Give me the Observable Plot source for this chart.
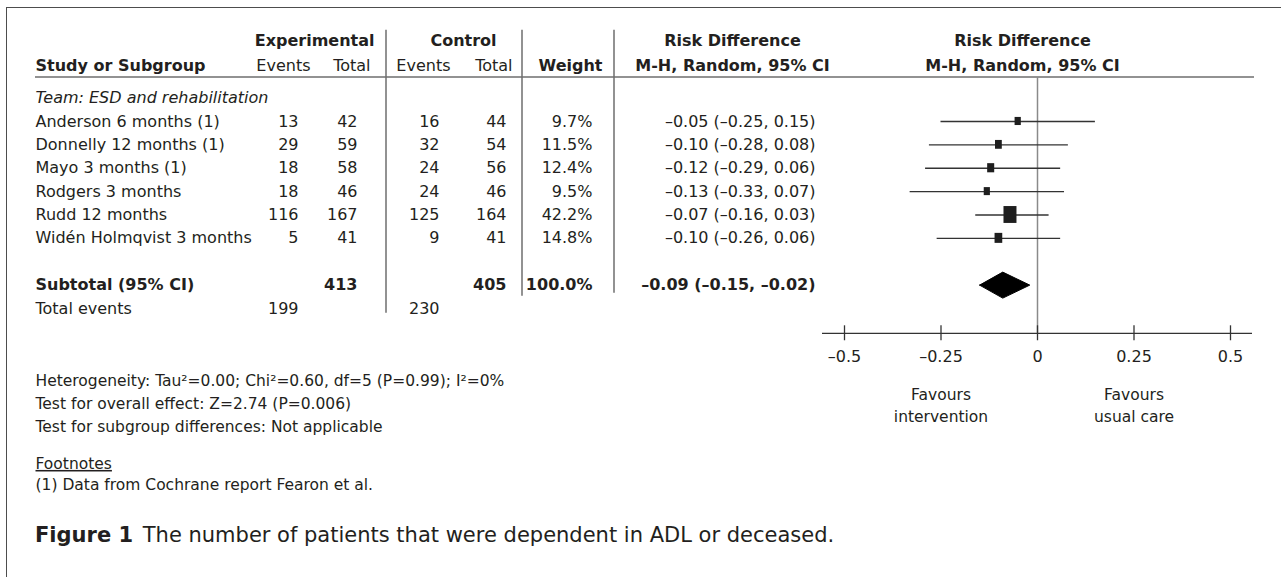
<!DOCTYPE html>
<html>
<head>
<meta charset="utf-8">
<script src="https://cdn.jsdelivr.net/npm/d3@7"></script>
<script src="https://cdn.jsdelivr.net/npm/@observablehq/plot@0.6"></script>
<style>
  html, body { margin: 0; padding: 0; background: #fff; }
  body { font-family: "DejaVu Sans", sans-serif; color: #231f20; width: 1281px; height: 577px; overflow: hidden; position: relative; }
  #chart { position: absolute; left: 0; top: 0; }
  #frame { position: absolute; left: 6px; top: 7px; width: 1280px; height: 575px; border-left: 1.5px solid #4d4d4d; border-top: 1.5px solid #4d4d4d; z-index: 2; pointer-events: none; }
  #caption { position: absolute; left: 35px; top: 521px; font-size: 21px; line-height: 29px; white-space: nowrap; color: #231f20; }
  #caption b { font-weight: 700; margin-right: 3px; }
</style>
</head>
<body>
<div id="chart"></div>
<div id="frame"></div>
<div id="caption"><b>Figure 1</b> The number of patients that were dependent in ADL or deceased.</div>
<script>
// ---------------- data ----------------
const subgroupLabel = "Team: ESD and rehabilitation";
const studies = ["Anderson 6 months (1)", "Donnelly 12 months (1)", "Mayo 3 months (1)", "Rodgers 3 months", "Rudd 12 months", "Widén Holmqvist 3 months"];
const expEvents = [13, 29, 18, 18, 116, 5];
const expTotal = [42, 59, 58, 46, 167, 41];
const ctrlEvents = [16, 32, 24, 24, 125, 9];
const ctrlTotal = [44, 54, 56, 46, 164, 41];
const weights = [9.7, 11.5, 12.4, 9.5, 42.2, 14.8];
const riskDiff = [-0.05, -0.10, -0.12, -0.13, -0.07, -0.10];
const ciLow = [-0.25, -0.28, -0.29, -0.33, -0.16, -0.26];
const ciHigh = [0.15, 0.08, 0.06, 0.07, 0.03, 0.06];
const subtotalLabel = "Subtotal (95% CI)";
const subtotalExpTotal = 413;
const subtotalCtrlTotal = 405;
const subtotalWeight = 100.0;
const subtotalRD = [-0.09, -0.15, -0.02]; // estimate, low, high
const totalEventsLabel = "Total events";
const totalExpEvents = 199;
const totalCtrlEvents = 230;
const xTicks = [-0.5, -0.25, 0, 0.25, 0.5];
const favourLabels = [{x: -0.25, text: "Favours\nintervention"}, {x: 0.25, text: "Favours\nusual care"}];
const footLines = [
  "Heterogeneity: Tau²=0.00; Chi²=0.60, df=5 (P=0.99); I²=0%",
  "Test for overall effect: Z=2.74 (P=0.006)",
  "Test for subgroup differences: Not applicable"
];
const footnoteHead = "Footnotes";
const footnote1 = "(1) Data from Cochrane report Fearon et al.";

// ---------------- layout ----------------
const INK = "#231f20";
const FONT = "'DejaVu Sans', sans-serif";
const W = 1281, H = 505;
const xDomain = [-0.557, 0.557], xRange = [822, 1252];
const yDomain = [0, 9], yRange = [97.6, 308];
const pxPerUnit = (xRange[1] - xRange[0]) / (xDomain[1] - xDomain[0]);
const pxPerRow = (yRange[1] - yRange[0]) / (yDomain[1] - yDomain[0]);
const L = {header1: -2.45, header2: -1.36, headerRule: -0.88, sepTop: -2.9,
  axis: 10.06, tickLabel: 11.05, favours: 13.09,
  foot: [12.1, 13.08, 14.06], footHead: 15.65, foot1: 16.55};
const COL = {study: 35, expEvents: 298, expTotal: 357, ctrlEvents: 439, ctrlTotal: 506, weight: 592, rdText: 815};
const HDR = {experimental: 374, expEvents: 310, expTotal: 370, control: 463, ctrlEvents: 450, ctrlTotal: 512, weight: 602, rd: 732, forest: 1022};
const SEP = [{x: 386, bottom: 9.2}, {x: 522, bottom: 8.48}, {x: 614, bottom: 8.35}];
const RULE = {x1: 35, x2: 1254};
const FS = 16, FS_FOOT = 15.5;

const fmtRD = v => (v < 0 ? "–" : "") + Math.abs(v).toFixed(2);
const fmtTick = v => (v < 0 ? "–" : "") + Math.abs(v);

const studyRows = studies.map((s, i) => ({
  row: i + 1, study: s, ee: expEvents[i], et: expTotal[i], ce: ctrlEvents[i], ct: ctrlTotal[i],
  w: weights[i], rd: riskDiff[i], lo: ciLow[i], hi: ciHigh[i]
}));
const subRow = 8, totRow = 9;
const [sEst, sLo, sHi] = subtotalRD;
const diamondHalf = 13 / pxPerRow;
const diamond = [
  {x: sLo, y: subRow}, {x: sEst, y: subRow - diamondHalf}, {x: sHi, y: subRow},
  {x: sEst, y: subRow + diamondHalf}, {x: sLo, y: subRow}
];
const sqW = d => 2.0 * Math.sqrt(d.w) / pxPerUnit / 2;
const sqH = d => 2.6 * Math.sqrt(d.w) / pxPerRow / 2;

// text helper: positioned by column (pixel layout) and row (y scale)
const T = (data, opts) => Plot.text(data, {frameAnchor: "left", fill: INK, fontSize: FS, ...opts});
const at = v => () => v;

function tableRules(index, scales) {
  const y = scales.y;
  const g = d3.create("svg:g").attr("stroke", "#6e6e6e").attr("stroke-width", 1.5).attr("fill", "none");
  g.append("line").attr("x1", RULE.x1).attr("x2", RULE.x2).attr("y1", y(L.headerRule)).attr("y2", y(L.headerRule));
  for (const s of SEP) g.append("line").attr("x1", s.x).attr("x2", s.x).attr("y1", y(L.sepTop)).attr("y2", y(s.bottom));
  return g.node();
}

const chart = Plot.plot({
  width: W, height: H,
  marginLeft: 0, marginRight: 0, marginTop: 0, marginBottom: 0,
  x: {domain: xDomain, range: xRange, axis: null},
  y: {domain: yDomain, range: yRange, axis: null},
  style: {fontFamily: FONT, background: "transparent", color: INK},
  marks: [
    tableRules,
    // headers
    T(["Experimental"], {text: d => d, y: at(L.header1), dx: HDR.experimental, textAnchor: "end", fontWeight: "bold"}),
    T(["Control"], {text: d => d, y: at(L.header1), dx: HDR.control, textAnchor: "middle", fontWeight: "bold"}),
    T(["Risk Difference"], {text: d => d, y: at(L.header1), dx: HDR.rd, textAnchor: "middle", fontWeight: "bold"}),
    T(["Risk Difference"], {text: d => d, y: at(L.header1), dx: HDR.forest, textAnchor: "middle", fontWeight: "bold"}),
    T(["Study or Subgroup"], {text: d => d, y: at(L.header2), dx: COL.study, textAnchor: "start", fontWeight: "bold"}),
    T(["Events"], {text: d => d, y: at(L.header2), dx: HDR.expEvents, textAnchor: "end"}),
    T(["Total"], {text: d => d, y: at(L.header2), dx: HDR.expTotal, textAnchor: "end"}),
    T(["Events"], {text: d => d, y: at(L.header2), dx: HDR.ctrlEvents, textAnchor: "end"}),
    T(["Total"], {text: d => d, y: at(L.header2), dx: HDR.ctrlTotal, textAnchor: "end"}),
    T(["Weight"], {text: d => d, y: at(L.header2), dx: HDR.weight, textAnchor: "end", fontWeight: "bold"}),
    T(["M-H, Random, 95% CI"], {text: d => d, y: at(L.header2), dx: HDR.rd, textAnchor: "middle", fontWeight: "bold"}),
    T(["M-H, Random, 95% CI"], {text: d => d, y: at(L.header2), dx: HDR.forest, textAnchor: "middle", fontWeight: "bold"}),
    // subgroup label
    T([subgroupLabel], {text: d => d, y: at(0), dx: COL.study, textAnchor: "start", fontStyle: "italic"}),
    // study rows
    T(studyRows, {y: "row", text: "study", dx: COL.study, textAnchor: "start"}),
    T(studyRows, {y: "row", text: "ee", dx: COL.expEvents, textAnchor: "end"}),
    T(studyRows, {y: "row", text: "et", dx: COL.expTotal, textAnchor: "end"}),
    T(studyRows, {y: "row", text: "ce", dx: COL.ctrlEvents, textAnchor: "end"}),
    T(studyRows, {y: "row", text: "ct", dx: COL.ctrlTotal, textAnchor: "end"}),
    T(studyRows, {y: "row", text: d => d.w.toFixed(1) + "%", dx: COL.weight, textAnchor: "end"}),
    T(studyRows, {y: "row", text: d => `${fmtRD(d.rd)} (${fmtRD(d.lo)}, ${fmtRD(d.hi)})`, dx: COL.rdText, textAnchor: "end"}),
    // subtotal row
    T([subtotalLabel], {text: d => d, y: at(subRow), dx: COL.study, textAnchor: "start", fontWeight: "bold"}),
    T([subtotalExpTotal], {text: d => d, y: at(subRow), dx: COL.expTotal, textAnchor: "end", fontWeight: "bold"}),
    T([subtotalCtrlTotal], {text: d => d, y: at(subRow), dx: COL.ctrlTotal, textAnchor: "end", fontWeight: "bold"}),
    T([subtotalWeight], {text: d => d.toFixed(1) + "%", y: at(subRow), dx: COL.weight, textAnchor: "end", fontWeight: "bold"}),
    T([subtotalRD], {text: d => `${fmtRD(d[0])} (${fmtRD(d[1])}, ${fmtRD(d[2])})`, y: at(subRow), dx: COL.rdText, textAnchor: "end", fontWeight: "bold"}),
    // total events
    T([totalEventsLabel], {text: d => d, y: at(totRow), dx: COL.study, textAnchor: "start"}),
    T([totalExpEvents], {text: d => d, y: at(totRow), dx: COL.expEvents, textAnchor: "end"}),
    T([totalCtrlEvents], {text: d => d, y: at(totRow), dx: COL.ctrlEvents, textAnchor: "end"}),
    // footer
    T(footLines, {text: d => d, y: (d, i) => L.foot[i], dx: COL.study, textAnchor: "start", fontSize: FS_FOOT}),
    T([footnoteHead], {text: d => d, y: at(L.footHead), dx: COL.study, textAnchor: "start", fontSize: FS_FOOT}),
    T([footnote1], {text: d => d, y: at(L.foot1), dx: COL.study, textAnchor: "start", fontSize: FS_FOOT}),
    // forest plot
    Plot.ruleX([0], {y1: L.headerRule, y2: L.axis, stroke: "#8a8a8a", strokeWidth: 1.5}),
    Plot.ruleY(studyRows, {y: "row", x1: "lo", x2: "hi", stroke: "#333", strokeWidth: 1.3}),
    Plot.rect(studyRows, {x1: d => d.rd - sqW(d), x2: d => d.rd + sqW(d), y1: d => d.row - sqH(d), y2: d => d.row + sqH(d), fill: "#1e1e1e"}),
    Plot.line(diamond, {x: "x", y: "y", fill: "#000", stroke: "#000", strokeWidth: 1}),
    Plot.ruleY([L.axis], {x1: xDomain[0], x2: xDomain[1], stroke: "#333", strokeWidth: 1.3}),
    Plot.ruleX(xTicks, {x: d => d, y1: L.axis - 0.32, y2: L.axis + 0.32, stroke: "#333", strokeWidth: 1.3}),
    Plot.text(xTicks, {x: d => d, y: at(L.tickLabel), text: fmtTick, fill: INK, fontSize: FS}),
    Plot.text(favourLabels, {x: "x", y: at(L.favours), text: "text", fill: INK, fontSize: FS_FOOT, lineHeight: 1.42})
  ]
});
// underline the footnotes heading
d3.select(chart).selectAll("text").filter(function() { return this.textContent === footnoteHead; })
  .attr("text-decoration", "underline");
document.getElementById("chart").appendChild(chart);
</script>
</body>
</html>
